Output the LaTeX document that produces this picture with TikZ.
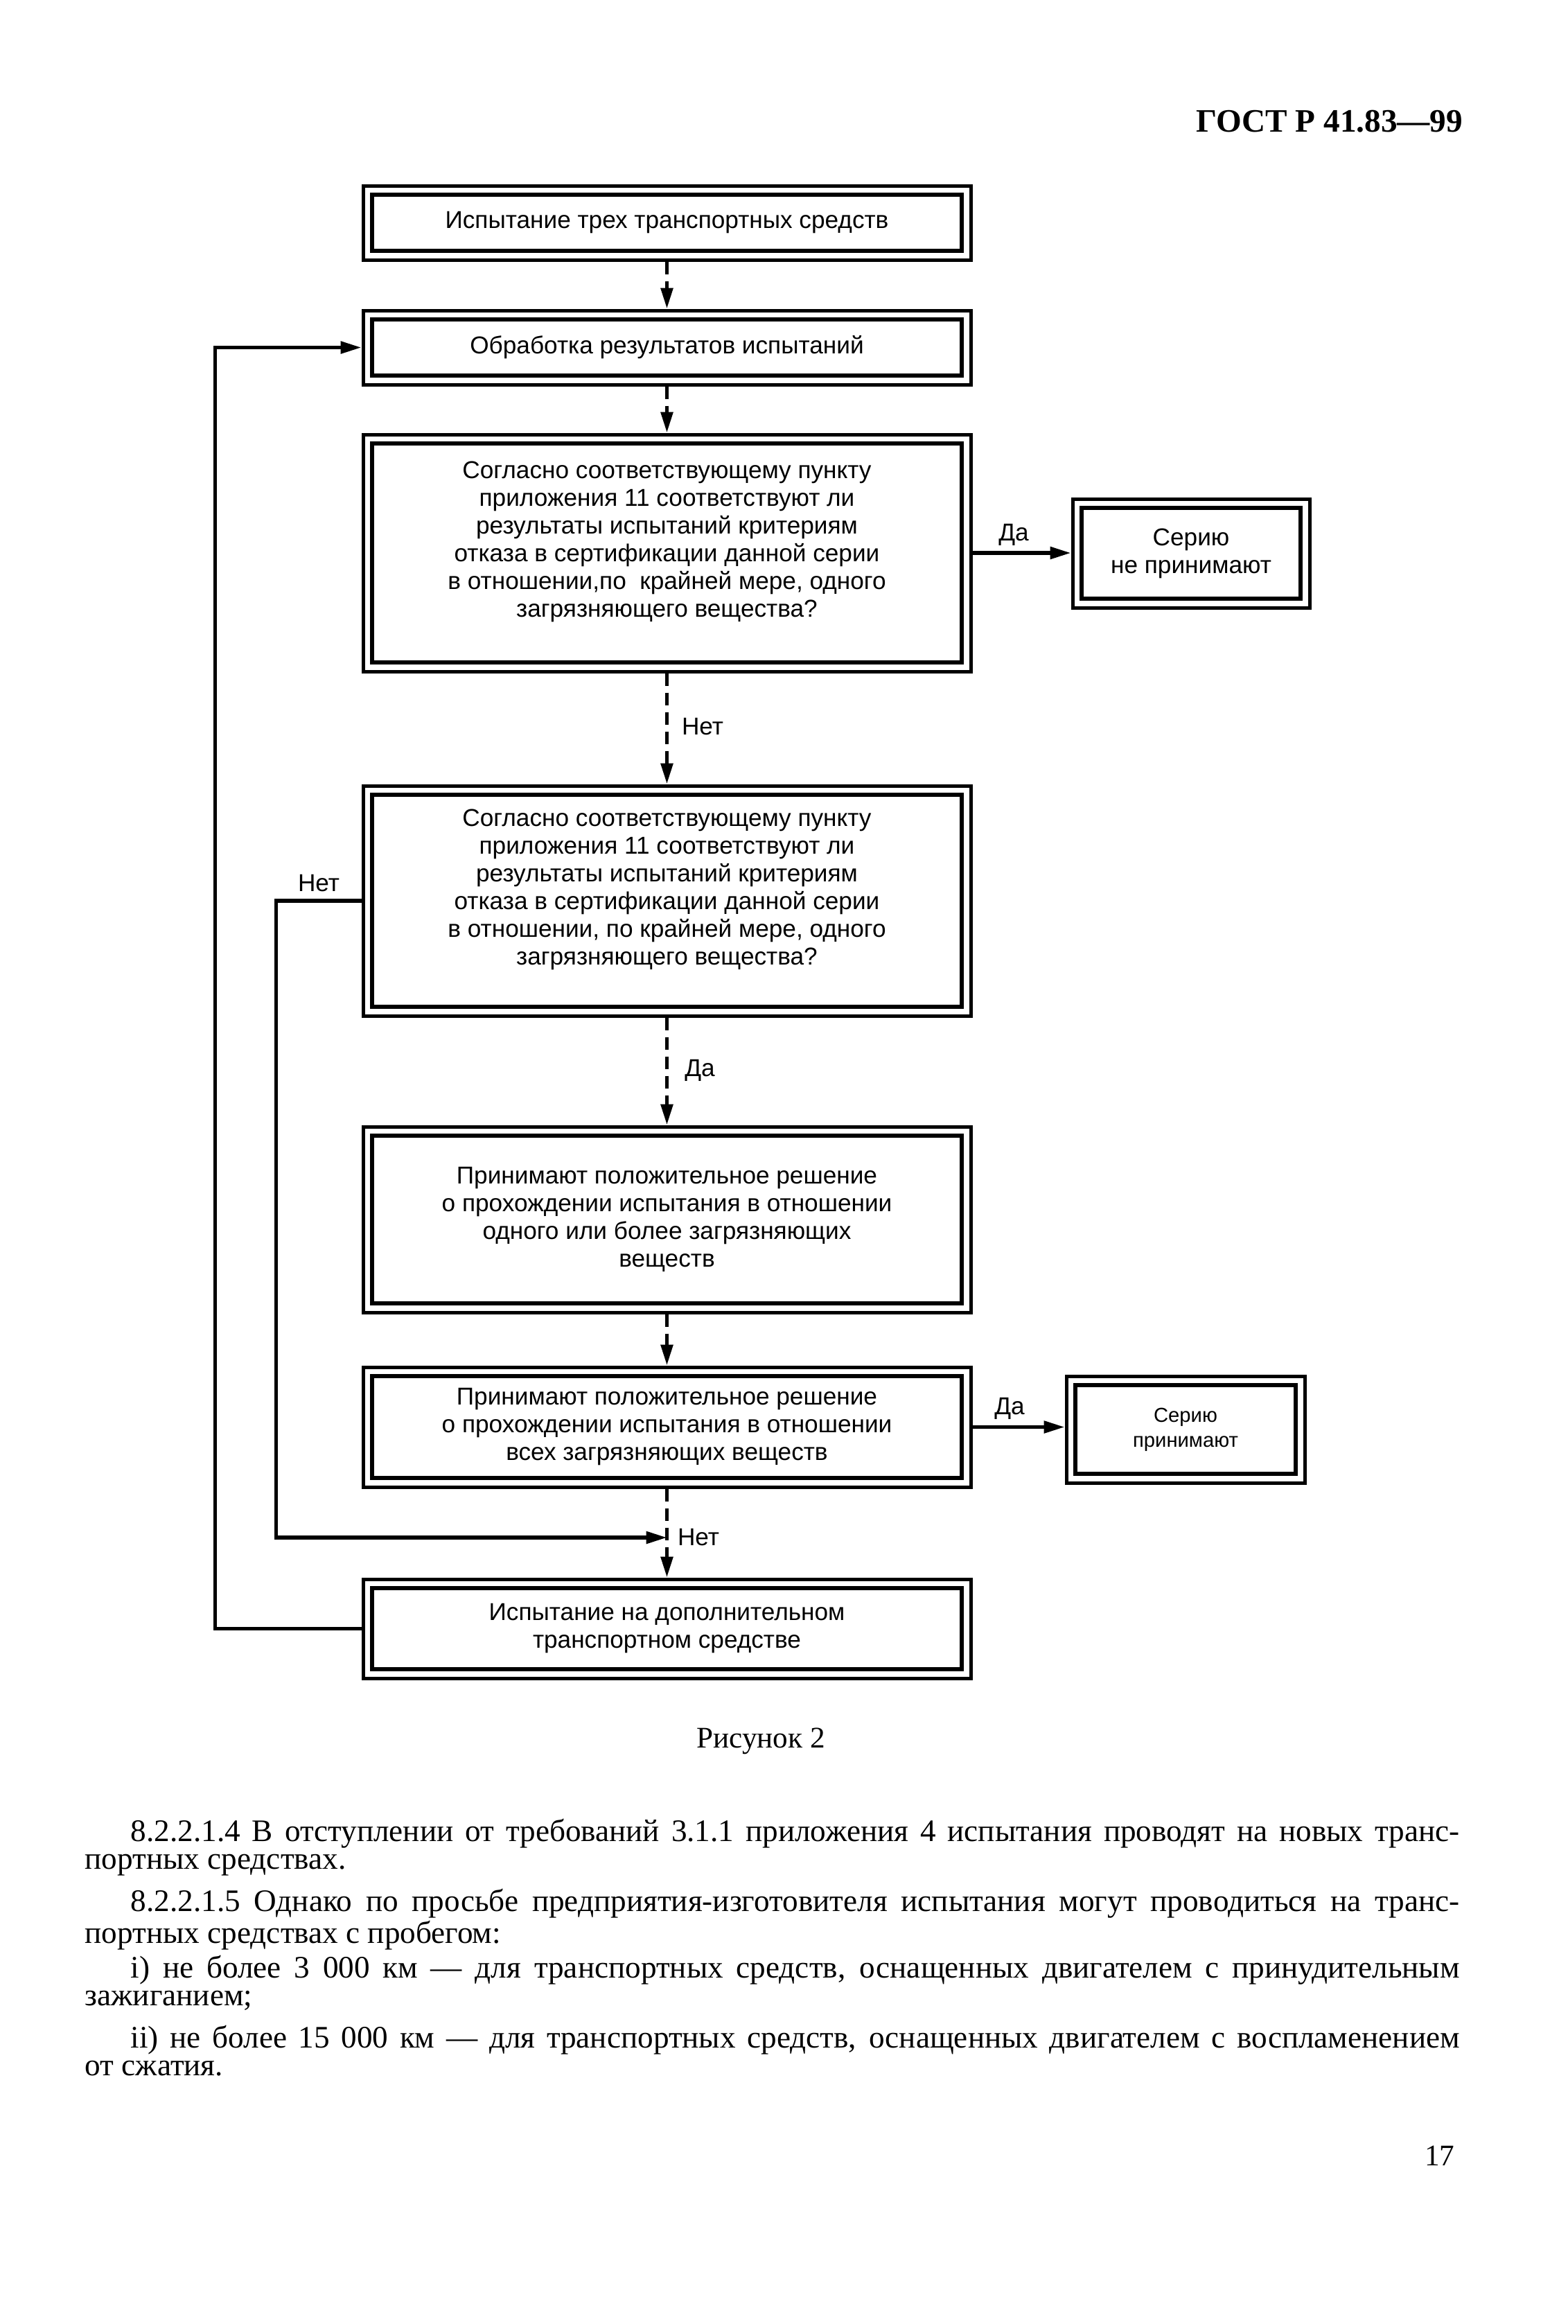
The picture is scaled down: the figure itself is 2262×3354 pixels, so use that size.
\documentclass[tikz,border=0pt]{standalone}
\usepackage{fontspec}
\setmainfont{Liberation Serif}
\newfontfamily\dsans{Liberation Sans}
\usetikzlibrary{arrows.meta,calc}
\newcommand{\jline}[1]{\makebox[496pt][s]{\spaceskip=0pt\xspaceskip=0pt\relax\hspace*{16.5pt}#1}}
\begin{document}
\begin{tikzpicture}[x=0.25pt,y=-0.25pt,
  dfont/.style={font=\dsans\fontsize{8.8pt}{10pt}\selectfont},
  box/.style={draw, line width=1.25pt, inner sep=0pt, minimum width=219.25pt, align=center, dfont,
    path picture={\draw[line width=1.5pt] ([shift={(3.25pt,-3.25pt)}]path picture bounding box.north west) rectangle ([shift={(-3.25pt,3.25pt)}]path picture bounding box.south east);}},
  conn/.style={line width=1.3pt, -{Triangle[length=7.5pt,width=4.3pt]}},
  dconn/.style={conn, dash pattern=on 4.5pt off 2.5pt},
  lbl/.style={dfont, inner sep=0pt},
  body/.style={inner sep=0pt, anchor=base west, text width=496pt, align=justify, font=\fontsize{11.3pt}{10.2pt}\selectfont}
]
\useasboundingbox[fill=white] (0,0) rectangle (2262,3354);

\node[anchor=base east, inner sep=0pt, font=\bfseries\fontsize{11.8pt}{12pt}\selectfont] (hdr) at (2112,190) {ГОСТ Р 41.83—99};

\node[box, minimum height=26.75pt] (b1) at (962.5,321.5) {Испытание трех транспортных средств};
\node[box, minimum height=26.75pt] (b2) at (962.5,501.5) {Обработка результатов испытаний};
\node[box, minimum height=85.5pt] (b3) at (962.5,798) {Согласно соответствующему пункту\\приложения 11 соответствуют ли\\результаты испытаний критериям\\отказа в сертификации данной серии\\в отношении,по~ крайней мере, одного\\загрязняющего вещества?\\~};
\node[box, minimum width=85.5pt, minimum height=39.25pt] (r1) at (1719,798.5) {Серию\\не принимают};
\node[box, minimum height=83pt] (b4) at (962.5,1300) {Согласно соответствующему пункту\\приложения 11 соответствуют ли\\результаты испытаний критериям\\отказа в сертификации данной серии\\в отношении, по крайней мере, одного\\загрязняющего вещества?\\~};
\node[box, minimum height=67pt] (b5) at (962.5,1760) {Принимают положительное решение\\о прохождении испытания в отношении\\одного или более загрязняющих\\веществ};
\node[box, minimum height=43.25pt] (b6) at (962.5,2059.5) {Принимают положительное решение\\о прохождении испытания в отношении\\всех загрязняющих веществ};
\node[box, minimum width=86pt, minimum height=38.5pt, font=\dsans\fontsize{7.3pt}{9pt}\selectfont] (r2) at (1711,2063) {Серию\\принимают};
\node[box, minimum height=35.75pt] (b7) at (962.5,2350.5) {Испытание на дополнительном\\транспортном средстве};

\coordinate (j) at (962.5,2219);

\draw[dconn] (b1.south) -- (b2.north);
\draw[dconn] (b2.south) -- (b3.north);
\draw[conn] (b3.east) -- (b3.east -| r1.west);
\draw[dconn] (b3.south) -- (b4.north);
\draw[dconn] (b4.south) -- (b5.north);
\draw[dconn] (b5.south) -- (b6.north);
\draw[conn] (b6.east) -- (b6.east -| r2.west);
\draw[dconn] (b6.south) -- (b7.north);
\draw[conn] (b4.west) -- ++(-123,0) |- (j);
\draw[conn] (b7.west) -- ++(-211,0) |- (b2.west);

\node[lbl] (l1) at (1463,772) {Да};
\node[lbl] (l2) at (1014,1049) {Нет};
\node[lbl] (l3) at (460,1275) {Нет};
\node[lbl] (l4) at (1010,1545) {Да};
\node[lbl] (l5) at (1457,2033) {Да};
\node[lbl] (l6) at (1008,2219) {Нет};

\node[inner sep=0pt, anchor=base, font=\fontsize{10.8pt}{12pt}\selectfont] (cap) at (1098,2522) {Рисунок 2};

\node[body] (p1) at (122,2657) {\jline{8.2.2.1.4 В отступлении от требований 3.1.1 приложения 4 испытания проводят на новых транс-}\\портных средствах.};
\node[body] (p2) at (122,2758) {\jline{8.2.2.1.5 Однако по просьбе предприятия-изготовителя испытания могут проводиться на транс-}\\портных средствах с пробегом:};
\node[body] (p3) at (122,2854) {\jline{i) не более 3~000 км — для транспортных средств, оснащенных двигателем с принудительным}\\зажиганием;};
\node[body] (p4) at (122,2955) {\jline{ii) не более 15~000 км — для транспортных средств, оснащенных двигателем с воспламенением}\\от сжатия.};

\node[inner sep=0pt, anchor=base east, font=\fontsize{10.8pt}{12pt}\selectfont] (pg) at (2100,3125) {17};
\end{tikzpicture}
\end{document}
